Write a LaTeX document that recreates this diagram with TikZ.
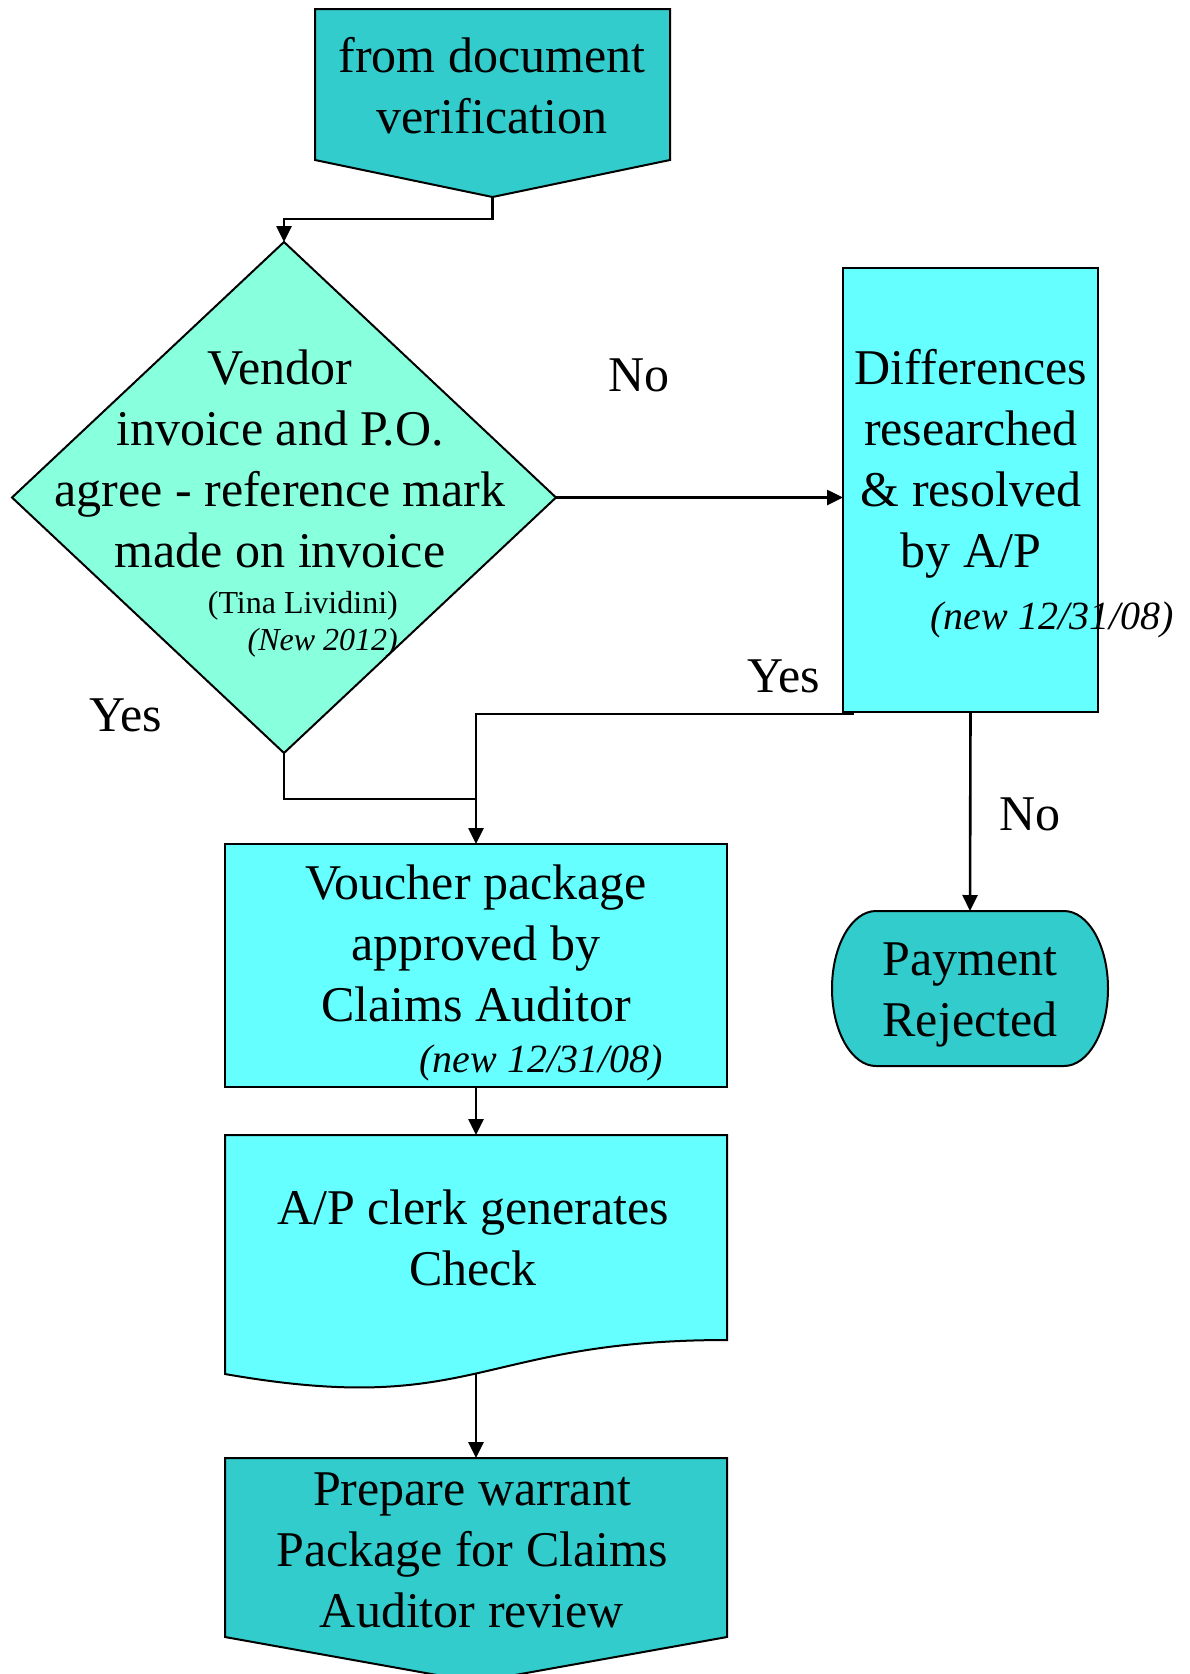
\documentclass[tikz,border=0pt]{standalone}
\usepackage{fontspec}
\setmainfont{Liberation Serif}
\usetikzlibrary{arrows.meta,shapes.geometric,calc}
\newcommand\fbig{\fontsize{50}{61}\selectfont}
\newcommand\fmid{\fontsize{40}{48}\selectfont}
\newcommand\fsmall{\fontsize{32}{38}\selectfont}
\definecolor{tealA}{HTML}{33CCCC}
\definecolor{aquaA}{HTML}{66FFFF}
\definecolor{mintA}{HTML}{88FFDD}
\begin{document}
\begin{tikzpicture}[x=1pt,y=-1pt,
  shapeline/.style={draw=black, line width=2pt, line join=miter},
  holder/.style={rectangle, draw=none, inner sep=0pt, outer sep=0pt},
  boxnode/.style={rectangle, shapeline, fill=aquaA, inner sep=0pt, outer sep=0pt},
  txt/.style={inner sep=0pt, align=center, font=\fbig},
  lab/.style={inner sep=0pt, font=\fbig, anchor=base},
  note/.style={inner sep=0pt, font=\fmid\itshape, anchor=base east},
  conn/.style={draw, line width=2.6pt, -{Triangle[length=16pt,width=15pt]}},
  plain/.style={draw, line width=2.6pt},
]
\fill[white] (0,0) rectangle (1190,1674);
\useasboundingbox (0,0) rectangle (1190,1674);

% source off-page connector
\node[holder, minimum width=355pt, minimum height=151pt] (src) at (492.5,84.5) {};
\draw[shapeline, fill=tealA] (src.north west) -- (src.north east) -- (src.south east)
  -- (492.5,197) coordinate (srctip) -- (src.south west) -- cycle;

% decision diamond
\node[diamond, shapeline, fill=mintA, minimum width=544pt, minimum height=511pt,
      inner sep=0pt, outer sep=0pt] (dia) at (284,497.5) {};

% differences box
\node[boxnode, minimum width=255pt, minimum height=444pt] (diff) at (970.5,490) {};

% voucher box
\node[boxnode, minimum width=502pt, minimum height=243pt] (vou) at (476,965.5) {};

% document shape
\node[holder, minimum width=502pt, minimum height=205pt] (doc) at (476,1237.5) {};
\draw[shapeline, fill=aquaA] (doc.north west) -- (doc.north east) -- (doc.south east)
  .. controls (476,1340) and (476,1418) .. (225,1374) -- cycle;
\coordinate (docout) at (476,1373.5);

% prepare off-page connector
\node[holder, minimum width=502pt, minimum height=179pt] (prep) at (476,1547.5) {};
\draw[shapeline, fill=tealA] (prep.north west) -- (prep.north east) -- (prep.south east)
  -- (476,1682) -- (prep.south west) -- cycle;

% payment rejected terminal
\node[holder, minimum width=276pt, minimum height=155pt] (pay) at (970,988.5) {};
\draw[shapeline, fill=tealA] (876,911) -- (1064,911)
  .. controls (1088.3,911) and (1108,945.7) .. (1108,988.5)
  .. controls (1108,1031.3) and (1088.3,1066) .. (1064,1066)
  -- (876,1066)
  .. controls (851.7,1066) and (832,1031.3) .. (832,988.5)
  .. controls (832,945.7) and (851.7,911) .. (876,911) -- cycle;

% connectors
\coordinate (join) at (476,799);
\draw[conn] (srctip) -- ++(0,22) -| (dia.north);
\draw[conn] (dia.east) -- (dia.east -| diff.west);
\draw[plain] (dia.south) |- (join);
\draw[conn] ($(diff.south west)+(11,2)$) -| (vou.north);
\draw[conn] (diff.south) -- (pay.north);
\draw[conn] (vou.south) -- (doc.north);
\draw[conn] (docout) -- (prep.north);

% texts
\node[txt] (srcT) at (492,90.8) {\strut from document\\verification\strut};
\node[txt] (diaT) at (280,463.3) {\strut Vendor\\invoice and P.O.\\agree - reference mark\\made on invoice\strut};
\node[inner sep=0pt, font=\fsmall, anchor=base east] (tina) at (398,613) {(Tina Lividini)};
\node[inner sep=0pt, font=\fsmall\itshape, anchor=base east] (new12) at (398,650) {(New 2012)};
\node[txt] (diffT) at (971,463.3) {\strut Differences\\researched\\\& resolved\\by A/P\strut};
\node[note] (diffN) at (1174,629) {(new 12/31/08)};
\node[txt] (vouT) at (476,947.8) {\strut Voucher package\\approved by\\Claims Auditor\strut};
\node[note] (vouN) at (663,1072) {(new 12/31/08)};
\node[txt] (docT) at (473,1242.8) {\strut A/P clerk generates\\Check\strut};
\node[txt] (prepT) at (472,1553.8) {\strut Prepare warrant\\Package for Claims\\Auditor review\strut};
\node[txt] (payT) at (970,993.8) {\strut Payment\\Rejected\strut};

% branch labels
\node[lab] (no1) at (639,391) {No};
\node[lab] (yes1) at (126,731) {Yes};
\node[lab] (yes2) at (784,692) {Yes};
\node[lab] (no2) at (1030,830) {No};
\end{tikzpicture}
\end{document}
